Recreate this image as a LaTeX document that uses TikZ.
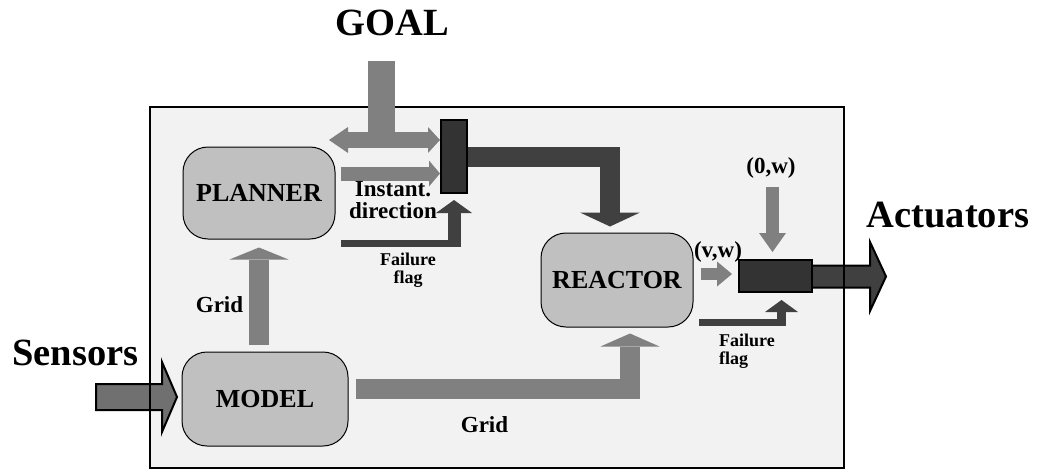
\documentclass[tikz,border=0pt]{standalone}
\usepackage{fontspec}
\setmainfont{Liberation Serif}
\usetikzlibrary{arrows.meta}
\definecolor{framebg}{HTML}{F2F2F2}
\definecolor{boxgray}{HTML}{C0C0C0}
\definecolor{arrgray}{HTML}{808080}
\definecolor{arrdark}{HTML}{404040}
\definecolor{muxfill}{HTML}{333333}
\definecolor{sensfill}{HTML}{707070}
\newcommand{\mytwo}[3]{\setlength{\tabcolsep}{0pt}\begin{tabular}[b]{#1}#2\\#3\end{tabular}}
\begin{document}
\begin{tikzpicture}[x=1pt,y=-1pt,
  blk/.style={draw=black,line width=1pt,fill=boxgray,rounded corners=25pt,inner sep=0pt,
    font=\bfseries\fontsize{26}{28}\selectfont},
  mux/.style={draw=black,line width=2pt,fill=muxfill,inner sep=0pt},
  big/.style={font=\bfseries\fontsize{38.5}{40}\selectfont,inner sep=0pt,anchor=base},
  lbl/.style={font=\bfseries\fontsize{23}{18}\selectfont,inner sep=0pt,anchor=base},
  small/.style={font=\bfseries\fontsize{18}{16}\selectfont,inner sep=0pt,anchor=base},
  garr/.style={draw=arrgray,line join=miter},
  darr/.style={draw=arrdark,line join=miter},
  blockarrow/.style={line width=2pt,draw=black,line join=miter},
]
\useasboundingbox (0,0) rectangle (1038,471);

% frame background
\fill[framebg] (150,107) rectangle (844,468);

% nodes
\node[blk,minimum width=152pt,minimum height=92pt] (planner) at (259,193) {PLANNER};
\node[blk,minimum width=166pt,minimum height=94pt] (model) at (265,399) {MODEL\hspace{12pt}};
\node[blk,minimum width=152pt,minimum height=94pt] (reactor) at (617,280) {REACTOR};

% sensors and actuators block arrows
\coordinate (sensin) at (96,397);
\fill[sensfill] (sensin) ++(0,-13) -- (162,384) -- (162,362) -- (177,397) -- (162,432) -- (162,410) -- (96,410) -- cycle;
\draw[blockarrow] (96,410) -- (96,384) -- (162,384) -- (162,362) -- (177,397) -- (162,432) -- (162,410) -- cycle;

\fill[arrdark] (813,265.5) -- (870,265.5) -- (870,242) -- (886,276.5) -- (870,311) -- (870,287.5) -- (813,287.5) -- cycle;
\draw[blockarrow] (813,265.5) -- (870,265.5) -- (870,242) -- (886,276.5) -- (870,311) -- (870,287.5) -- (813,287.5);

% frame border
\draw[line width=2.5pt] (150,107) rectangle (844,468);

% mux blocks
\node[mux,minimum width=26pt,minimum height=73pt] (mux1) at (454,156.5) {};
\node[mux,minimum width=73pt,minimum height=32pt] (mux2) at (775.5,276) {};

% GOAL input
\coordinate (goalin) at (381.5,61);
\coordinate (goalL) at (329,140);
\draw[garr,line width=27pt] (goalin) -- (goalin |- goalL);
\draw[garr,line width=16pt,
  {Triangle[width=26pt,length=19pt,line width=0pt]}-{Triangle[width=26pt,length=12pt,line width=0pt]}]
  (goalL) -- (goalL -| mux1.west);

% planner -> mux1
\coordinate (pout) at (341,173.5);
\draw[garr,line width=14pt,-{Triangle[width=26pt,length=11pt,line width=0pt]}]
  (pout) -- (pout -| mux1.west);

% failure flag (planner)
\coordinate (ff1) at (341,243.5);
\coordinate (ff1c) at (454,247);
\draw[darr,line width=7pt] (ff1) -- (461,243.5);
\draw[darr,line width=13pt,-{Triangle[width=36pt,length=13pt,line width=0pt]}]
  (ff1c) -- ([yshift=-6pt]mux1.south);

% mux1 -> reactor
\draw[darr,line width=20pt,-{Triangle[width=60pt,length=14pt,line width=0pt]}]
  (mux1.east) -| ([shift={(-7pt,6pt)}]reactor.north);

% model -> planner (Grid)
\draw[garr,line width=20pt,-{Triangle[width=59pt,length=12pt,line width=0pt]}]
  ([yshift=7pt]model.north -| planner.south) -- ([yshift=-8pt]planner.south);

% model -> reactor (Grid)
\draw[garr,line width=20pt,-{Triangle[width=59pt,length=13pt,line width=0pt]}]
  ([shift={(7pt,10pt)}]model.east) -| ([shift={(13pt,-6pt)}]reactor.south);

% reactor -> mux2 (v,w)
\draw[garr,line width=12pt,-{Triangle[width=25pt,length=15pt,line width=0pt]}]
  ([shift={(7pt,6pt)}]reactor.east) -- ([shift={(-6pt,2pt)}]mux2.west);

% (0,w) -> mux2
\coordinate (ow) at (772.5,187);
\draw[garr,line width=13pt,-{Triangle[width=27pt,length=19pt,line width=0pt]}]
  (ow) -- ([shift={(-3pt,7pt)}]mux2.north);

% failure flag (reactor)
\coordinate (ff2) at (699,322.5);
\coordinate (ff2c) at (781.5,326);
\draw[darr,line width=7pt] (ff2) -- (786,322.5);
\draw[darr,line width=9pt,-{Triangle[width=33pt,length=12pt,line width=0pt]}]
  (ff2c) -- ([shift={(6pt,-7pt)}]mux2.south);

% labels
\node[big] (goal) at (392,35) {GOAL};
\node[big] (sensors) at (75.5,365) {Sensors};
\node[big] (actuators) at (948,227) {Actuators};
\node[lbl] (instdir) at (393,218) {\mytwo{c}{Instant.}{direction}};
\node[small] (ffl1) at (408,283) {\mytwo{c}{Failure}{flag}};
\node[small] (ffl2) at (719,364) [anchor=base west] {\mytwo{l}{Failure}{flag}};
\node[lbl] (grid1) at (219.5,312) {Grid};
\node[lbl] (grid2) at (484.5,432) {Grid};
\node[lbl] (vw) at (718,257) {(v,w)};
\node[lbl] (zw) at (771,173) {(0,w)};
\end{tikzpicture}
\end{document}
